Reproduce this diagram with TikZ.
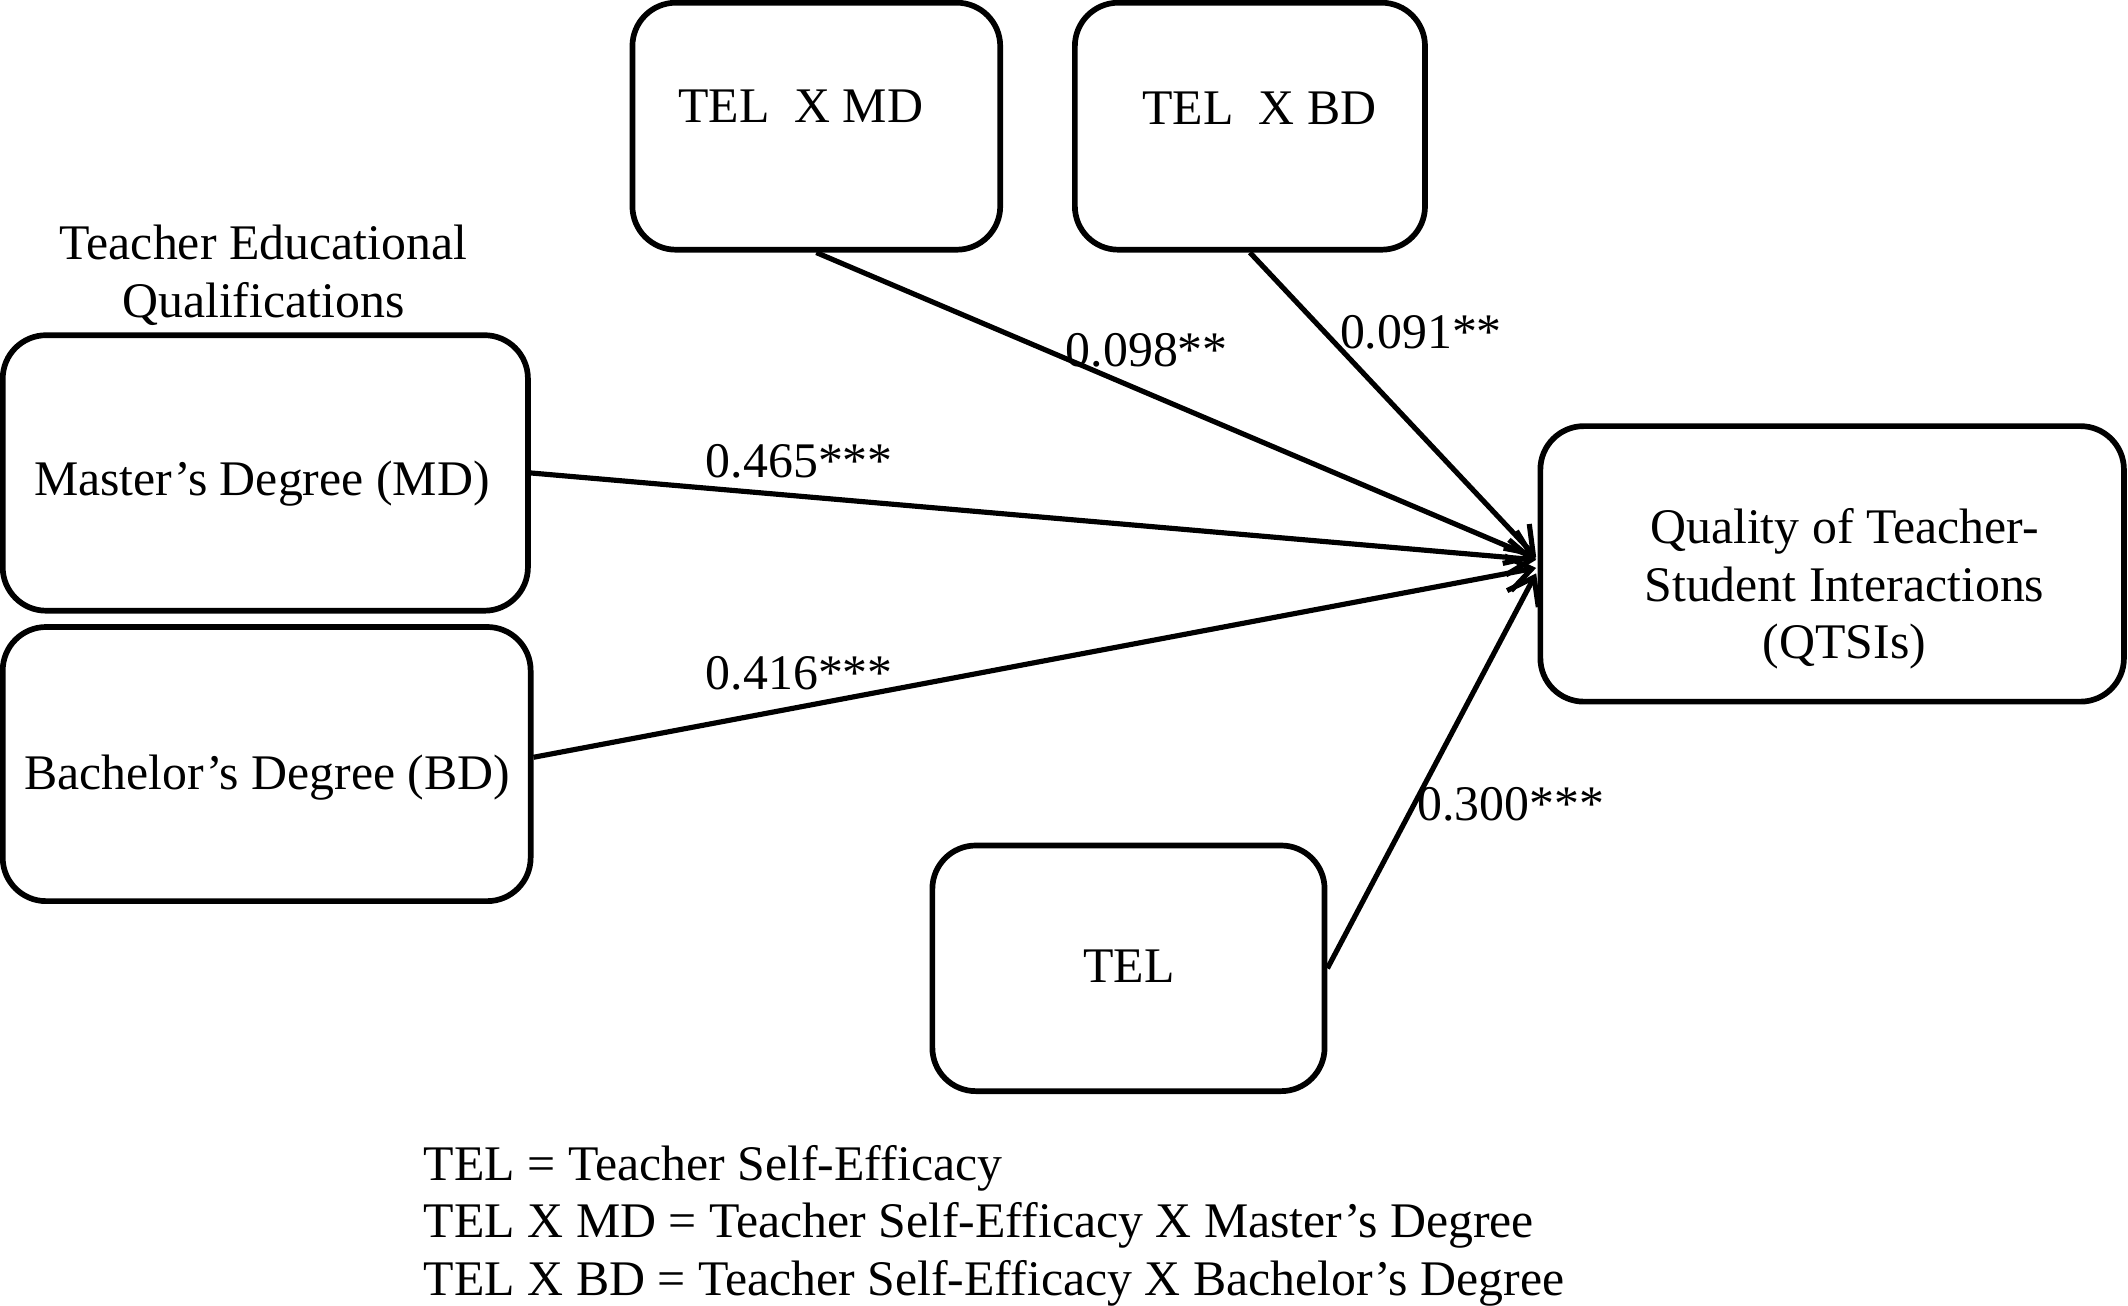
\documentclass[tikz,border=0pt]{standalone}
\usepackage{fontspec}
\setmainfont{Liberation Serif}
\usetikzlibrary{arrows.meta,calc}
\begin{document}
\begin{tikzpicture}[x=0.5pt,y=-0.5pt,
  box/.style={draw, line width=2.1pt, rounded corners=16pt, inner sep=0pt},
  txt/.style={font=\fontsize{18.35}{21.2}\selectfont, inner sep=0pt, align=center},
  conn/.style={line width=1.9pt, -{Straight Barb[length=9pt,width=13pt]}},
  lab/.style={font=\fontsize{18.35}{21.2}\selectfont, inner sep=0pt}]
\useasboundingbox (0,0) rectangle (1568,962);
% boxes
\node[box, minimum width=135.5pt, minimum height=91pt] (txmd) at (601.5,93) {};
\node[box, minimum width=129pt, minimum height=91pt] (txbd) at (921,93) {};
\node[box, minimum width=193.5pt, minimum height=101.5pt] (md) at (195.5,348.5) {};
\node[box, minimum width=194.5pt, minimum height=101pt] (bd) at (196.5,563) {};
\node[box, minimum width=215pt, minimum height=101.5pt] (q) at (1350,415.5) {};
\node[box, minimum width=144.5pt, minimum height=90.5pt] (tel) at (831.5,713.5) {};
% texts
\node[txt] (txmdt) at (590,78) {TEL\ \ X MD};
\node[txt] (txbdt) at (928,80) {TEL\ \ X BD};
\node[txt] (head) at (194,203) {Teacher Educational\\Qualifications};
\node[txt] (mdt) at (193,356) {Master’s Degree (MD)};
\node[txt] (bdt) at (197,573) {Bachelor’s Degree (BD)};
\node[txt] (qt) at (1359,434) {Quality of Teacher-\\Student Interactions\\(QTSIs)};
\node[txt] (telt) at (832,712) {TEL};
\node[txt, align=left, anchor=west] (legend) at (312,903) {TEL = Teacher Self-Efficacy\\TEL X MD = Teacher Self-Efficacy X Master’s Degree\\TEL X BD = Teacher Self-Efficacy X Bachelor’s Degree};
% end points
\coordinate (e1) at ($(q.west)+(-1,-4)$);
\coordinate (e2) at ($(q.west)+(-1,-5)$);
\coordinate (e3) at ($(q.west)+(-1,-3)$);
\coordinate (e4) at ($(q.west)+(-1,3)$);
\coordinate (e5) at ($(q.west)+(-1,7)$);
% connectors
\draw[conn] (txmd.south) -- (e1);
\draw[conn] (txbd.south) -- (e2);
\draw[conn] (md.east) -- (e3);
\draw[conn] ($(bd.east)+(0,-5)$) -- (e4);
\draw[conn] (tel.east) -- (e5);
% labels
\node[lab] (l1) at (845,258) {0.098**};
\node[lab] (l2) at (1047,245) {0.091**};
\node[lab] (l3) at (589,340) {0.465***};
\node[lab] (l4) at (589,496) {0.416***};
\node[lab] (l5) at (1113,593) {0.300***};
\end{tikzpicture}
\end{document}
